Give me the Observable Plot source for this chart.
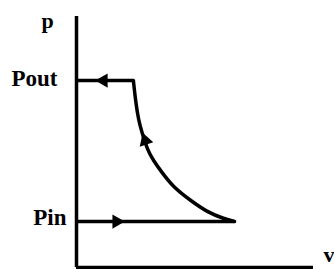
<!DOCTYPE html>
<html><head><meta charset="utf-8">
<script src="https://cdn.jsdelivr.net/npm/d3@7"></script>
<script src="https://cdn.jsdelivr.net/npm/@observablehq/plot@0.6"></script>
<style>
html,body{margin:0;padding:0;background:#fff;}
svg text{font-family:"Liberation Serif","Times New Roman",serif;font-weight:bold;}
</style>
</head><body>
<div id="chart"></div>
<script>
// Pressure levels (arbitrary units)
const levelNames = ["Pout", "Pin"];
const levelP = [7.36, 1.81];
// Extent of each horizontal stroke along v
const levelVEnd = [2.40, 6.67];
// Compression curve
const curveV = [2.40, 2.49, 2.62, 2.74, 3.00, 3.25, 3.54, 4.09, 4.81, 5.53, 6.20, 6.67];
const curveP = [7.36, 6.58, 5.79, 5.39, 4.61, 4.21, 3.82, 3.15, 2.64, 2.17, 1.93, 1.81];
// Arrowheads: position and direction
const arrowV = [1.14, 1.69, 2.90];
const arrowP = [7.36, 1.81, 5.00];
const arrowAngle = [-90, 90, -18];
// Axis names
const axisNames = ["p", "v"];

const levels = levelNames.map((n, i) => ({name: n, p: levelP[i], vEnd: levelVEnd[i]}));
const curve = curveV.map((v, i) => ({v, p: curveP[i]}));
const arrows = arrowV.map((v, i) => ({v, p: arrowP[i], a: arrowAngle[i]}));

const sw = 3.5;
const chart = Plot.plot({
  width: 334,
  height: 269,
  marginLeft: 76,
  marginRight: 21,
  marginTop: 13,
  marginBottom: 2,
  x: {domain: [0, 10], axis: null},
  y: {domain: [0, 10], axis: null},
  style: {background: "#fff", color: "#000"},
  marks: [
    Plot.ruleX([0], {y1: 0, y2: 10, stroke: "#000", strokeWidth: sw, insetBottom: -3}),
    Plot.ruleY([0], {x1: 0, x2: 10, stroke: "#000", strokeWidth: sw}),
    Plot.ruleY(levels, {y: "p", x1: 0, x2: "vEnd", stroke: "#000", strokeWidth: sw}),
    Plot.line(curve, {x: "v", y: "p", curve: "basis", stroke: "#000", strokeWidth: sw}),
    Plot.dot(arrows, {x: "v", y: "p", rotate: "a", symbol: "triangle", r: 5.3, fill: "#000", stroke: "none"}),
    Plot.text(levels.slice(0, 1), {x: 0, y: "p", text: "name", textAnchor: "end", lineAnchor: "bottom", dx: -19, dy: 5, fontSize: 23, fill: "#000"}),
    Plot.text(levels.slice(1), {x: 0, y: "p", text: "name", textAnchor: "end", lineAnchor: "bottom", dx: -10, dy: 3, fontSize: 23, fill: "#000"}),
    Plot.text([axisNames[0]], {x: 0, y: 10, text: d => d, textAnchor: "middle", lineAnchor: "bottom", dx: -29, dy: 14, fontSize: 22, fill: "#000"}),
    Plot.text([axisNames[1]], {x: 10, y: 0, text: d => d, textAnchor: "start", lineAnchor: "bottom", dx: 10, dy: -6, fontSize: 22, fill: "#000"})
  ]
});
document.getElementById("chart").appendChild(chart);
</script>
</body></html>
